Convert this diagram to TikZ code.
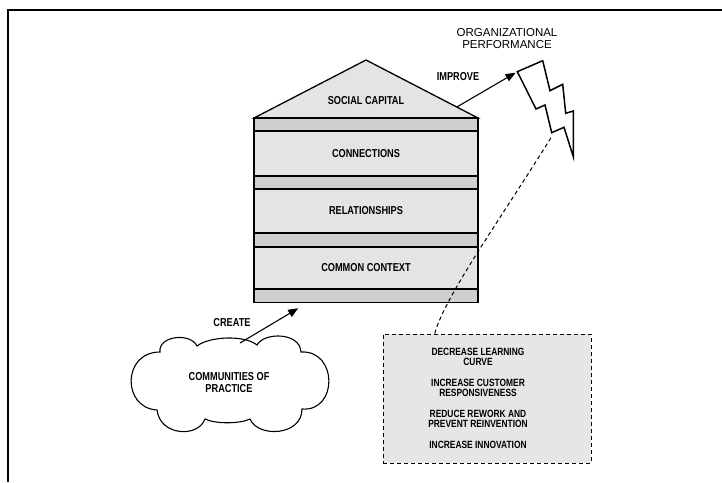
\documentclass[tikz,border=0pt]{standalone}
\usepackage{fontspec}
\setmainfont{Liberation Sans}[FakeStretch=0.8]
\newfontfamily\headfont{Liberation Sans}
\usetikzlibrary{arrows.meta,calc}
\definecolor{panel}{HTML}{E4E4E6}
\definecolor{band}{HTML}{CFCFD1}
\definecolor{note}{HTML}{E6E6E8}
\begin{document}
\begin{tikzpicture}[x=1pt,y=-1pt,
  lbl/.style={font=\bfseries\fontsize{11.5}{12}\selectfont, inner sep=0pt, align=center},
  layer/.style={draw, line width=1.6pt, fill=panel, minimum width=224pt, inner sep=0pt,
                font=\bfseries\fontsize{11.5}{12}\selectfont},
  stripe/.style={draw, line width=1.6pt, fill=band, minimum width=224pt, minimum height=13pt, inner sep=0pt},
  link/.style={line width=1.1pt, -{Triangle[length=10pt,width=8pt]}},
  dashline/.style={line width=1pt, dash pattern=on 4pt off 3pt}]
\useasboundingbox (0,0) rectangle (722,482);

% outer frame (top and left edges)
\draw[line width=2.6pt] (722,10) -- (8,10) -- (8,482);

% house: roof
\filldraw[fill=panel, line width=1.3pt, line join=miter] (254,118) -- (366,60) -- (478,118) -- cycle;
\node[lbl] (social) at (366,101) {SOCIAL CAPITAL};

% house: layers and stripes
\node[stripe] (s1) at (366,124.5) {};
\node[layer, minimum height=45pt] (conn) at (366,153.5) {CONNECTIONS};
\node[stripe] (s2) at (366,182.5) {};
\node[layer, minimum height=44pt] (rel) at (366,211) {RELATIONSHIPS};
\node[stripe] (s3) at (366,240) {};
\node[layer, minimum height=42pt] (ctx) at (366,268) {COMMON CONTEXT};
\node[stripe] (s4) at (366,296) {};

% lightning bolt
\coordinate (boltA) at (517.3,71.7);
\coordinate (boltFoot) at (552,136);
\filldraw[fill=white, line width=1.5pt, line join=miter]
  (boltA) -- (542.7,60.7) -- (550,90.7) -- (562.7,84.3) -- (565.7,113.3) -- (573.3,111)
  -- (573.3,156.7) -- (564,127.3) -- (551.7,132.7) -- (545,105) -- (536,109) -- cycle;
\node[inner sep=0pt, align=center, font=\headfont\fontsize{11.5}{11.3}\selectfont] (perf) at (507,38.5)
  {ORGANIZATIONAL\\PERFORMANCE};

% improve arrow
\coordinate (roofR) at (456.8,107);
\draw[link, shorten >=2pt] (roofR) -- (boltA);
\node[lbl] (improve) at (458,77) {IMPROVE};

% communities of practice: cloud outline
\filldraw[fill=white, line width=1.1pt]
  (160,352) .. controls (158,336) and (190,332) .. (197,346)
            .. controls (210,336) and (245,335) .. (257,345)
            .. controls (264,332) and (300,332) .. (301,352)
            .. controls (338,350) and (338,412) .. (302,409)
            .. controls (302,436) and (258,438) .. (250,419)
            .. controls (240,424) and (215,424) .. (205,419)
            .. controls (198,438) and (160,436) .. (157,410)
            .. controls (122,408) and (122,352) .. cycle;
\node[lbl] (cop) at (229,383) {COMMUNITIES OF\\PRACTICE};
\coordinate (copTop) at (240,343);
\draw[link] (copTop) -- ([xshift=45pt,yshift=-5pt]s4.south west);
\node[lbl] (create) at (232,323) {CREATE};

% benefits box
\node[draw, fill=note, dashline, minimum width=208pt, minimum height=129pt, inner sep=0pt]
  (benefits) at (487,398.5) {};
\node[lbl, font=\bfseries\fontsize{10.5}{10}\selectfont] (benefitText) at (478,398.5)
  {DECREASE LEARNING\\CURVE\\[11pt]
   INCREASE CUSTOMER\\RESPONSIVENESS\\[11pt]
   REDUCE REWORK AND\\PREVENT REINVENTION\\[11pt]
   INCREASE INNOVATION};
\draw[dashline] ($(benefits.north west)!0.25!(benefits.north east)$)
  .. controls (445,296) and (500,220) .. (boltFoot);
\end{tikzpicture}
\end{document}
